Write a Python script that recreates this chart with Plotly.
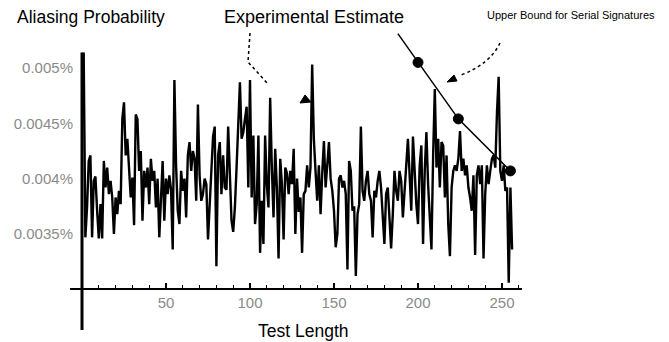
import plotly.graph_objects as go

# ---- data (aliasing probability in units of 0.001 %) ----
test_length = list(range(1, 257))
experimental_estimate = [
    5.14, 3.47, 3.74, 4.16, 4.21, 3.47, 3.98, 4.02, 3.71, 3.46,
    3.77, 3.46, 4.16, 3.92, 4.10, 3.86, 3.98, 3.83, 3.50, 3.83,
    3.68, 3.89, 3.77, 4.54, 4.69, 4.21, 4.36, 4.07, 3.83, 4.01,
    3.58, 4.58, 4.54, 4.07, 4.25, 3.62, 4.07, 3.92, 4.10, 3.77,
    4.18, 3.98, 4.07, 3.74, 4.00, 3.47, 3.80, 4.16, 3.62, 4.00,
    3.86, 4.03, 3.90, 3.36, 4.89, 4.12, 3.71, 3.59, 4.07, 3.89,
    4.00, 3.65, 4.21, 4.33, 4.07, 4.25, 4.18, 3.80, 4.67, 4.03,
    3.80, 3.86, 4.00, 3.95, 3.45, 3.77, 4.07, 4.38, 4.47, 3.21,
    4.21, 4.33, 3.86, 4.21, 3.92, 3.90, 4.47, 4.00, 3.62, 3.52,
    3.74, 4.10, 4.54, 4.87, 4.36, 4.42, 4.54, 4.65, 3.92, 4.89,
    3.83, 4.39, 3.59, 3.77, 4.39, 3.33, 3.80, 3.41, 4.39, 3.95,
    3.74, 4.73, 4.10, 3.65, 4.27, 3.92, 3.28, 4.18, 3.95, 3.45,
    4.10, 4.05, 3.86, 4.07, 3.95, 4.27, 3.50, 4.00, 3.70, 3.83,
    3.33, 3.86, 3.89, 4.12, 3.92, 4.10, 5.03, 4.36, 4.07, 3.80,
    4.12, 3.68, 4.05, 4.34, 3.92, 4.18, 4.33, 4.00, 3.89, 3.71,
    3.38, 3.50, 4.00, 4.03, 3.92, 3.98, 3.86, 3.18, 4.16, 4.07,
    3.71, 3.75, 3.12, 3.68, 3.77, 4.47, 3.89, 3.80, 3.98, 4.07,
    3.86, 3.80, 3.47, 3.89, 3.83, 3.98, 4.07, 3.92, 3.65, 3.41,
    3.86, 3.92, 3.65, 3.37, 3.68, 4.07, 3.89, 3.80, 4.07, 3.98,
    3.65, 3.95, 4.12, 4.36, 4.07, 3.71, 4.38, 4.00, 3.77, 3.59,
    4.12, 4.30, 3.41, 4.07, 4.42, 3.95, 3.59, 3.36, 4.21, 4.81,
    4.10, 4.36, 3.92, 4.33, 4.30, 3.83, 4.21, 3.59, 3.30, 3.92,
    4.07, 4.12, 4.07, 4.18, 4.43, 4.07, 4.18, 4.03, 4.12, 3.92,
    3.83, 3.71, 4.03, 3.31, 4.03, 4.12, 3.95, 4.12, 3.28, 3.86,
    4.12, 3.95, 4.07, 4.18, 4.21, 4.10, 4.60, 4.92, 4.07, 3.98,
    4.12, 3.89, 3.92, 3.06, 3.92, 3.36,
]

bound_length = [188, 200, 224, 255]
bound_value = [5.31, 5.05, 4.54, 4.07]
bound_marker_size = [0, 10, 10, 10]

y_tick_vals = [3.5, 4.0, 4.5, 5.0]
y_tick_text = ["0.0035%", "0.004%", "0.0045%", "0.005%"]
x_tick_vals = [50, 100, 150, 200, 250]

# ---- geometry (page body has an 8px margin, so the figure is offset) ----
OFF = 8
W, H = 669 - OFF, 342 - OFF
PLOT_L, PLOT_R, PLOT_T, PLOT_B = 70, 522, 25, 330   # in page pixels
ML, MR = PLOT_L - OFF, (W + OFF) - PLOT_R
MT, MB = PLOT_T - OFF, (H + OFF) - PLOT_B
PW, PH = PLOT_R - PLOT_L, PLOT_B - PLOT_T
x_range = [-7.14, 261.9]
y_range = [2.633, 5.388]
x_axis_level = 3.0


def px(x):
    return (x - PLOT_L) / PW


def py(y):
    return (PLOT_B - y) / PH


font_family = "Liberation Sans, Arial, sans-serif"

fig = go.Figure()
fig.add_trace(go.Scatter(
    x=test_length, y=experimental_estimate, mode="lines",
    line=dict(color="black", width=2.4), showlegend=False, hoverinfo="skip"))
fig.add_trace(go.Scatter(
    x=bound_length, y=bound_value, mode="lines+markers",
    line=dict(color="black", width=1.5),
    marker=dict(color="#000000", size=bound_marker_size, opacity=1,
                line=dict(width=1, color="#000000")),
    opacity=1, showlegend=False, hoverinfo="skip"))

xpos = (x_axis_level - y_range[0]) / (y_range[1] - y_range[0])
ypos = (0 - x_range[0]) / (x_range[1] - x_range[0])

fig.update_layout(
    width=W, height=H,
    margin=dict(l=ML, r=MR, t=MT, b=MB, autoexpand=False),
    paper_bgcolor="white", plot_bgcolor="white",
    font=dict(family=font_family, color="black"),
    xaxis=dict(
        range=x_range, anchor="free", position=xpos,
        showline=True, linecolor="black", linewidth=2,
        tickmode="array", tickvals=x_tick_vals,
        ticks="inside", ticklen=5, tickwidth=1.5, tickcolor="black",
        minor=dict(tickmode="linear", tick0=0, dtick=10, ticks="inside",
                   ticklen=3, tickwidth=1.2, tickcolor="black"),
        showgrid=False, zeroline=False,
        tickfont=dict(size=15, color="#8a8a8a", family=font_family)),
    yaxis=dict(
        range=y_range, anchor="free", position=ypos,
        showline=False, ticks="", tickmode="array",
        tickvals=y_tick_vals, ticktext=y_tick_text,
        ticklabelstandoff=9,
        showgrid=False, zeroline=False,
        tickfont=dict(size=15, color="#8a8a8a", family=font_family)),
)

# y-axis line (extends below the x axis like the original)
fig.add_shape(type="line", xref="x", yref="y", x0=0, x1=0,
              y0=y_range[0], y1=5.14, line=dict(color="black", width=3))

# dotted leader lines
fig.add_shape(type="path", xref="paper", yref="paper",
              path=f"M {px(250)},{py(33)} L {px(248)},{py(62)} L {px(268)},{py(84)}",
              line=dict(color="black", width=1.5, dash="dot"))
fig.add_shape(type="path", xref="paper", yref="paper",
              path=f"M {px(500)},{py(43)} Q {px(490)},{py(64)} {px(461)},{py(75)}",
              line=dict(color="black", width=1.5, dash="dot"))

# arrowheads
for tri in [[(300, 103), (305, 95), (311, 102)],
            [(447, 82), (454, 75), (457, 81)]]:
    (x1, y1), (x2, y2), (x3, y3) = tri
    fig.add_shape(type="path", xref="paper", yref="paper",
                  path=f"M {px(x1)},{py(y1)} L {px(x2)},{py(y2)} L {px(x3)},{py(y3)} Z",
                  fillcolor="black", line=dict(color="black", width=1))

annos = [
    dict(text="Aliasing Probability", x=px(15), y=py(17), xanchor="left",
         yanchor="middle", size=17.5),
    dict(text="Experimental Estimate", x=px(222), y=py(17), xanchor="left",
         yanchor="middle", size=18),
    dict(text="Upper Bound for Serial Signatures", x=px(485), y=py(15),
         xanchor="left", yanchor="middle", size=11),
    dict(text="Test Length", x=px(303), y=py(331), xanchor="center",
         yanchor="middle", size=17.5),
]
for a in annos:
    fig.add_annotation(text=a["text"], x=a["x"], y=a["y"], xref="paper",
                       yref="paper", xanchor=a["xanchor"], yanchor=a["yanchor"],
                       showarrow=False,
                       font=dict(size=a["size"], family=font_family, color="black"))

fig.write_html("out.html")
